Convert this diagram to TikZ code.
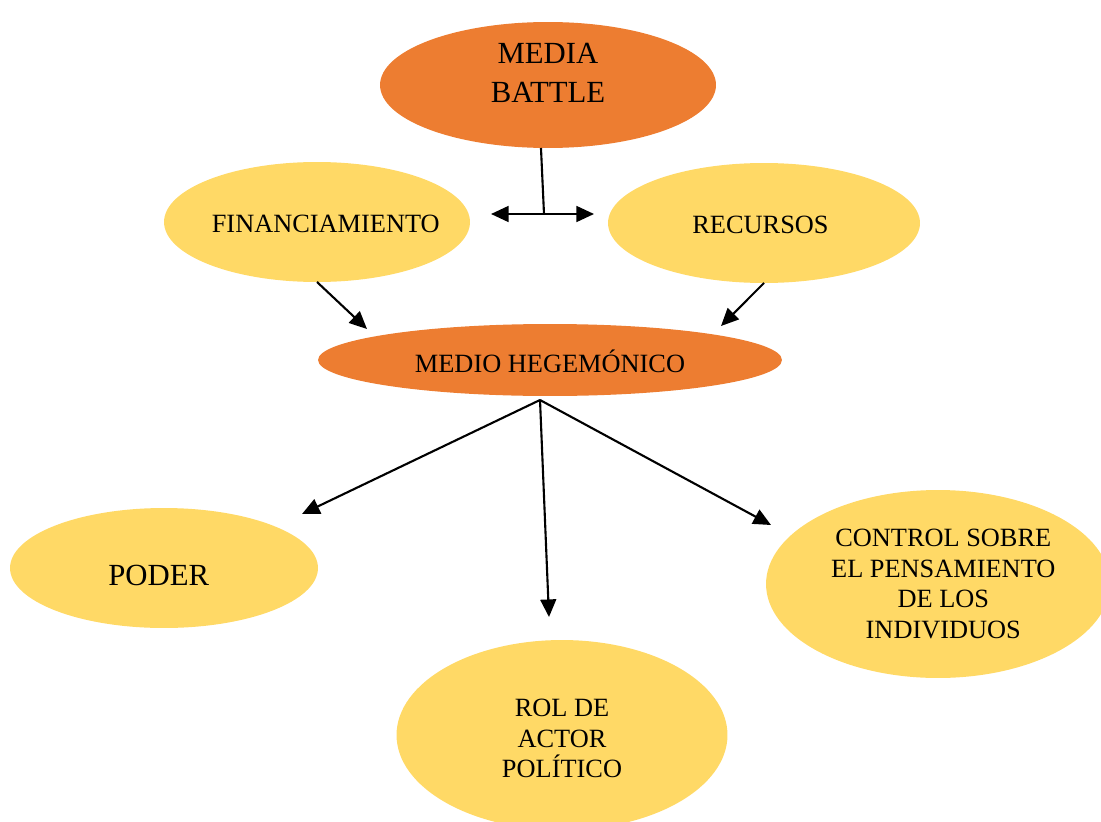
\documentclass[tikz,border=0pt]{standalone}
\usepackage{fontspec}
\setmainfont{Liberation Serif}
\newcommand*{\bubblefont}{\fontsize{15}{17.5}\selectfont}
\newcommand*{\bigfont}{\fontsize{17.5}{22}\selectfont}
\definecolor{hub}{HTML}{ED7D31}
\definecolor{leaf}{HTML}{FFD966}
\usepackage{tikz}
\usetikzlibrary{arrows.meta}
\usetikzlibrary{shapes.geometric}
\tikzstyle{base}=[x=0.02cm, y=-0.02cm, inner sep=0pt, outer sep=0pt, font=\bubblefont]
\tikzstyle{hubnode}=[ellipse, fill=hub]
\tikzstyle{leafnode}=[ellipse, fill=leaf]
\tikzstyle{link}=[line width=1.2pt, -{Triangle[length=10pt,width=9pt]}]
\tikzstyle{twoway}=[line width=1.2pt, {Triangle[length=10pt,width=9pt]}-{Triangle[length=10pt,width=9pt]}]

\begin{document}
\begin{tikzpicture}[base]
    \useasboundingbox (0,0) rectangle (1101,821);
        \node [hubnode, minimum width=6.72cm, minimum height=2.52cm,
            label={[align=center, font=\bigfont, yshift=7pt]center:MEDIA\\BATTLE}] (media) at (548,85) {};
        \node [leafnode, minimum width=6.12cm, minimum height=2.4cm,
            label={[xshift=5pt, yshift=-1pt]center:FINANCIAMIENTO}] (fin) at (317,222) {};
        \node [leafnode, minimum width=6.24cm, minimum height=2.4cm,
            label={[xshift=-2pt, yshift=-1pt]center:RECURSOS}] (rec) at (764,223) {};
        \node [hubnode, minimum width=9.28cm, minimum height=1.44cm,
            label={[yshift=-1pt]center:MEDIO HEGEMÓNICO}] (medio) at (550,360) {};
        \node [leafnode, minimum width=6.16cm, minimum height=2.4cm,
            label={[font=\bigfont, xshift=-3pt, yshift=-4pt]center:PODER}] (poder) at (164,568) {};
        \node [leafnode, minimum width=6.62cm, minimum height=3.8cm,
            label={[align=center, yshift=-2pt]center:ROL DE\\ACTOR\\POLÍTICO}] (rol) at (562,735) {};
        \node [leafnode, minimum width=6.88cm, minimum height=3.76cm,
            label={[align=center, xshift=3pt]center:CONTROL SOBRE\\EL PENSAMIENTO\\DE LOS\\INDIVIDUOS}] (ctrl) at (938,584) {};
        \coordinate (fork) at (544,214);
        \coordinate (forkl) at (491,214);
        \coordinate (forkr) at (594,214);
        \coordinate (finin) at (367,329);
        \coordinate (recin) at (721,326);
        \coordinate (spread) at (540,400);
        \coordinate (poderin) at (302,514);
        \coordinate (rolin) at (549,617);
        \coordinate (ctrlin) at (771,525);
        \draw [line width=1.2pt] ([xshift=-4pt]media.south) -- (fork);
        \draw [twoway] (forkl) -- (forkr);
        \draw [link] (fin.south) -- (finin);
        \draw [link] (rec.south) -- (recin);
        \draw [link] (spread) -- (poderin);
        \draw [link] (spread) -- (rolin);
        \draw [link] (spread) -- (ctrlin);
    \end{tikzpicture}
\end{document}
